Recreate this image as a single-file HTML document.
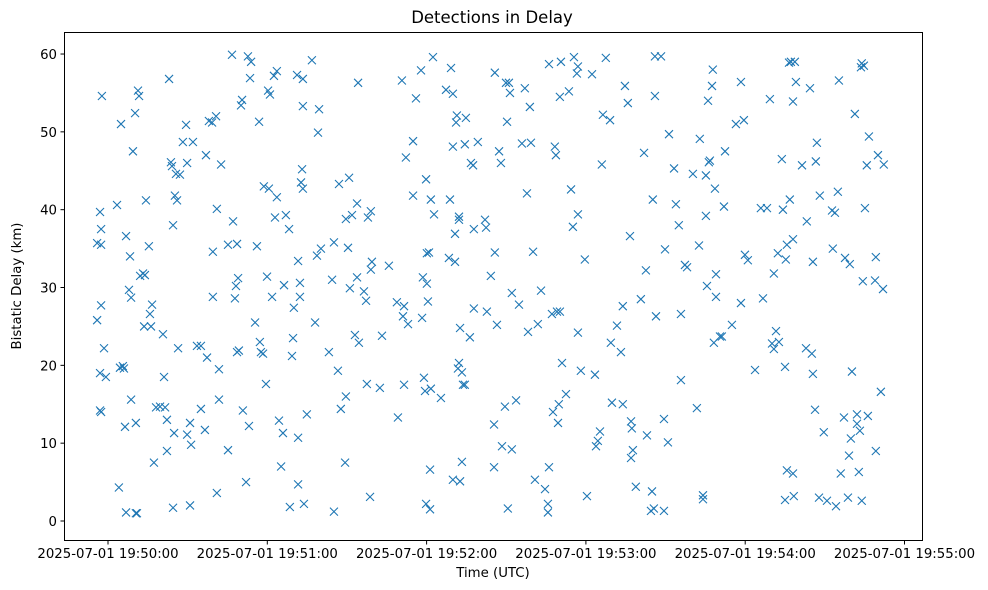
<!DOCTYPE html>
<html><head><meta charset="utf-8"><style>
html,body{margin:0;padding:0;background:#fff;}
svg{display:block;font-family:"DejaVu Sans","Liberation Sans",sans-serif;}
</style></head><body>
<svg id="chart" width="988" height="590" viewBox="0 0 988 590" xmlns="http://www.w3.org/2000/svg">
<rect x="0" y="0" width="988" height="590" fill="#fff"/>
<text x="492" y="23" text-anchor="middle" font-size="16.5" fill="#000">Detections in Delay</text>
<g id="marks"></g>
<g id="xaxis"></g>
<g id="yaxis"></g>
<rect x="64.5" y="32.5" width="858" height="508" fill="none" stroke="#000" stroke-width="1"/>
<text x="493" y="577" text-anchor="middle" font-size="13.3" fill="#000">Time (UTC)</text>
<text x="0" y="0" transform="translate(21,286) rotate(-90)" text-anchor="middle" font-size="13.3" fill="#000">Bistatic Delay (km)</text>
</svg>
<script>
// seconds relative to 2025-07-01 19:50:00 UTC
const detTimes = [-4.1,-4.1,-3.0,-2.6,-2.6,-2.6,-3.0,-3.0,-2.6,-2.3,-1.5,-0.8,
3.4,4.1,4.5,4.9,5.6,6.0,6.4,6.8,6.8,8.3,7.9,8.7,8.7,9.4,10.2,10.5,10.5,10.9,11.3,11.7,12.1,13.2,13.9,13.6,14.3,15.4,15.8,16.2,16.6,17.3,18.1,19.6,20.7,21.1,21.5,22.2,22.2,23.0,23.7,24.1,24.5,24.5,24.9,25.2,25.6,26.0,26.4,27.1,28.2,29.4,29.8,29.8,31.3,30.9,32.0,33.5,35.0,30.9,35.0,36.5,36.9,37.3,38.0,39.2,39.5,39.5,40.7,41.0,41.0,41.8,41.8,42.6,45.2,45.2,46.7,47.1,47.8,48.2,48.6,49.0,48.6,49.3,50.1,50.5,50.8,52.0,52.7,53.1,53.5,53.9,55.4,56.1,56.9,57.2,57.6,58.4,58.7,59.5,59.9,60.3,60.6,61.0,61.8,62.5,62.9,63.6,63.6,64.4,65.2,65.9,66.3,67.0,68.2,68.5,69.3,69.7,70.0,71.2,71.6,71.6,71.6,72.3,72.3,72.7,73.1,73.4,73.4,73.4,73.8,74.9,76.8,78.0,78.7,79.1,79.5,80.2,83.2,84.4,85.1,85.1,86.6,87.0,87.7,89.3,89.6,89.6,90.4,90.8,91.1,91.9,93.0,93.8,93.8,94.2,94.5,96.4,97.2,97.5,97.9,98.7,99.0,99.0,99.4,102.4,103.2,105.8,108.8,109.2,110.7,111.1,111.5,111.5,112.2,113.0,114.9,114.9,116.0,117.9,118.3,118.6,119.0,119.4,119.8,119.8,120.1,120.1,120.5,120.9,121.3,121.3,121.6,121.6,122.4,122.8,125.4,127.3,128.4,128.8,129.2,129.9,129.9,129.9,130.7,130.7,131.1,131.4,131.8,132.2,132.2,132.2,132.6,132.6,133.3,133.3,133.7,134.4,134.4,134.8,136.3,136.7,137.5,137.8,137.8,139.3,142.0,142.4,142.7,144.2,145.4,145.4,145.7,145.7,146.5,147.3,148.0,148.4,149.5,149.9,150.3,150.6,151.0,151.4,152.1,152.1,153.7,154.8,155.9,157.0,157.8,158.2,158.9,159.3,160.1,160.8,161.9,163.1,164.6,165.7,165.7,166.1,166.1,167.2,167.6,168.3,168.7,169.1,169.5,169.8,170.2,170.2,170.6,171.0,172.5,173.6,174.4,175.1,175.5,176.6,177.0,177.0,177.0,178.1,179.6,180.4,182.3,183.4,183.8,184.5,185.3,186.0,186.4,187.5,189.1,189.4,189.8,191.7,193.2,193.9,193.9,194.7,195.8,196.6,197.0,197.0,197.3,197.7,198.8,200.7,201.9,202.6,203.0,204.5,204.9,205.2,205.6,206.0,206.0,206.4,208.3,209.4,209.4,209.8,210.9,211.3,213.2,213.9,215.0,215.8,215.8,217.3,218.1,220.3,221.8,222.6,222.9,224.1,224.1,225.2,225.2,225.6,226.0,226.3,226.7,227.5,227.8,228.2,229.0,229.0,228.6,230.5,231.2,232.0,232.4,235.0,236.5,238.4,238.4,239.5,239.9,241.0,243.7,245.9,246.7,248.2,249.3,250.1,250.8,250.8,251.6,252.3,252.7,253.8,254.2,255.0,255.0,255.3,255.7,255.7,256.5,256.8,257.2,258.0,258.0,258.0,258.3,258.7,259.1,261.4,262.9,263.2,264.4,265.1,265.5,265.5,266.3,266.6,267.0,267.8,268.1,269.6,270.8,272.7,273.0,273.8,274.2,274.9,275.3,276.0,277.2,277.6,278.7,279.1,279.4,279.8,280.2,281.3,282.1,282.1,282.8,283.2,283.6,283.9,283.9,284.3,284.7,285.1,285.8,286.2,286.6,288.9,289.2,289.2,290.0,291.1,291.9,292.2];
const detDelays = [25.8,35.7,39.7,37.5,35.5,27.7,19,14.2,14,54.6,22.2,18.5,
40.6,4.3,19.7,51,19.9,19.6,12.1,1.1,36.6,34,29.7,28.7,15.6,47.5,52.4,12.6,1,1,55.3,54.6,31.5,31.8,31.6,25,41.2,35.3,26.6,25,27.8,7.5,14.6,14.7,24,18.5,14.6,9,13,56.8,46.1,45.6,38,1.7,11.3,41.8,44.6,41.2,22.2,44.5,48.7,50.9,46,11.1,9.8,12.6,48.7,22.5,14.4,2,22.5,11.7,47,21,51.4,51.2,28.8,34.6,52,40.1,3.6,19.5,15.6,45.8,9.1,35.5,59.9,38.5,28.6,30.2,21.7,31.2,35.6,21.9,53.4,54.1,14.2,5,59.7,12.2,56.9,59,25.5,35.3,51.3,23,21.7,21.5,43,17.6,31.4,55.3,42.7,54.8,28.8,57.2,39,57.8,41.6,12.9,7,11.3,30.3,39.3,37.5,1.8,21.2,23.5,27.4,57.3,33.4,10.7,4.7,28.8,30.6,43.5,45.2,42.7,53.3,56.8,2.2,13.7,59.2,25.5,34.1,49.9,52.9,35,21.7,31,1.2,35.8,19.3,43.3,14.4,7.5,16,38.8,35.1,44.1,29.9,39.3,23.9,31.3,40.8,56.3,22.9,29.5,28.3,17.6,39,3.1,32.3,39.8,33.3,17.1,23.8,32.8,28.1,13.3,56.6,26.3,17.5,27.6,46.7,25.3,48.8,41.8,54.3,57.9,26.1,31.3,18.4,16.7,2.2,43.9,30.5,34.4,28.2,34.5,1.5,6.6,17,41.3,59.6,39.4,15.8,55.4,33.8,41.3,58.2,48.1,5.3,54.9,33.3,36.9,51.2,52.1,19.6,20.3,39.1,38.7,24.8,5.1,7.6,19.1,17.5,17.5,48.4,51.8,23.6,46,45.7,27.3,37.5,48.7,38.7,37.7,26.9,31.5,12.4,6.9,57.6,34.5,25.2,47.5,46,9.6,14.7,56.3,51.3,1.6,56.3,55,29.3,9.2,15.5,27.8,48.5,55.6,42.1,24.3,53.2,48.6,34.6,5.3,25.3,29.6,4.1,1.1,2.2,6.9,58.7,26.6,14,48.1,47,26.9,12.6,15,26.9,54.5,59,20.3,16.3,55.2,42.6,37.8,59.6,57.5,58.4,39.4,24.2,19.3,33.6,3.2,57.4,18.8,9.6,10.3,11.5,45.8,52.2,59.5,51.5,22.9,15.2,25.1,21.7,27.6,15,55.9,53.7,36.6,12.8,8.1,11.9,9.1,4.4,28.5,47.3,32.2,11,1.3,3.8,41.3,1.6,54.6,59.7,26.3,59.7,13.1,1.3,34.9,10.1,49.7,45.3,40.7,38,26.6,18.1,32.9,32.6,44.6,14.5,35.4,49.1,3.3,2.8,39.2,44.4,30.2,54,46.1,46.3,55.9,58,22.9,28.8,31.7,42.7,23.7,23.7,40.4,47.5,25.2,51,56.4,28,51.5,34.2,33.5,19.4,40.2,28.6,40.2,54.2,22.8,22.1,31.8,24.4,34.4,23,46.5,40,2.7,19.8,33.6,6.5,35.5,58.9,41.3,59,36.2,53.9,6.1,3.2,59,56.4,45.7,22.2,38.5,55.6,21.5,33.3,18.9,14.3,46.2,48.6,3,41.8,11.4,2.6,39.9,35,39.6,1.9,42.3,56.6,6.1,13.3,33.8,3,8.4,33,10.6,19.2,52.3,13.7,12.5,6.3,11.6,58.3,58.8,2.6,30.8,58.5,40.2,45.7,13.5,49.4,30.9,33.9,9,47,16.6,29.8,45.8];
const xTickSec = [0,60,120,180,240,300];
const xTickLabels = ["2025-07-01 19:50:00","2025-07-01 19:51:00","2025-07-01 19:52:00","2025-07-01 19:53:00","2025-07-01 19:54:00","2025-07-01 19:55:00"];
const yTickVals = [0,10,20,30,40,50,60];

const NS = "http://www.w3.org/2000/svg";
function xScale(s){ return 108 + s * (159.3/60); }
function yScale(v){ return 521 - v * 7.783; }

const marks = document.getElementById('marks');
const n = Math.min(detTimes.length, detDelays.length);
for (let i = 0; i < n; i++) {
  const cx = xScale(detTimes[i]), cy = yScale(detDelays[i]), r = 4;
  const p = document.createElementNS(NS, 'path');
  p.setAttribute('d', `M${cx-r},${cy-r}L${cx+r},${cy+r}M${cx-r},${cy+r}L${cx+r},${cy-r}`);
  p.setAttribute('stroke', '#1f77b4');
  p.setAttribute('stroke-width', '1.1');
  p.setAttribute('fill', 'none');
  
  
  marks.appendChild(p);
}

const xa = document.getElementById('xaxis');
xTickSec.forEach((s, i) => {
  const x = xScale(s);
  const t = document.createElementNS(NS, 'line');
  t.setAttribute('x1', x); t.setAttribute('x2', x);
  t.setAttribute('y1', 540.5); t.setAttribute('y2', 544.5);
  t.setAttribute('stroke', '#000');
  
  
  xa.appendChild(t);
  const l = document.createElementNS(NS, 'text');
  l.setAttribute('x', x); l.setAttribute('y', 558);
  l.setAttribute('text-anchor', 'middle');
  l.setAttribute('font-size', '13.3');
  l.textContent = xTickLabels[i];
  
  
  xa.appendChild(l);
});

const ya = document.getElementById('yaxis');
yTickVals.forEach(v => {
  const y = yScale(v);
  const t = document.createElementNS(NS, 'line');
  t.setAttribute('x1', 60.5); t.setAttribute('x2', 64.5);
  t.setAttribute('y1', y); t.setAttribute('y2', y);
  t.setAttribute('stroke', '#000');
  
  
  ya.appendChild(t);
  const l = document.createElementNS(NS, 'text');
  l.setAttribute('x', 57); l.setAttribute('y', y + 5);
  l.setAttribute('text-anchor', 'end');
  l.setAttribute('font-size', '13.3');
  l.textContent = String(v);
  
  
  ya.appendChild(l);
});
</script>
</body></html>
